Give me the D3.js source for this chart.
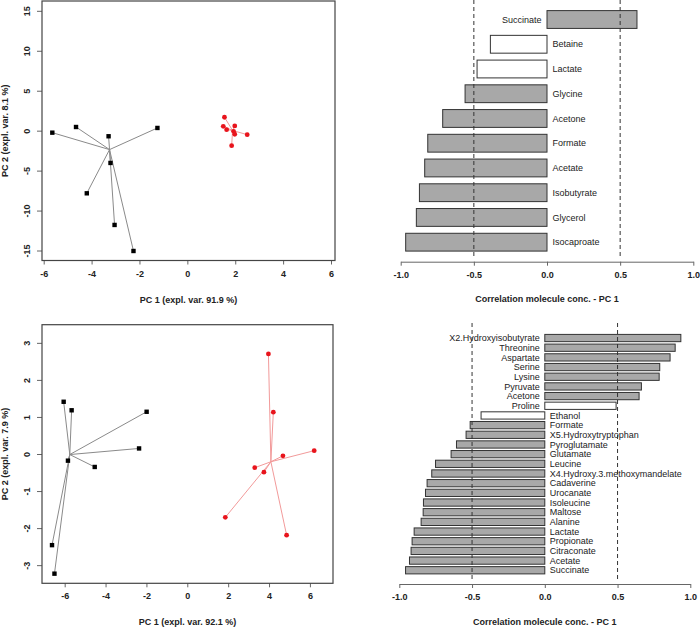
<!DOCTYPE html>
<html>
<head>
<meta charset="utf-8">
<script src="https://cdn.jsdelivr.net/npm/d3@7"></script>
<style>
	body { margin: 0; background: white; }
	svg { display: block; }
</style>
</head>
<body>
<div id="container"></div>
<script>
// PCA scores, dataset 1 (top) - [PC1, PC2]
const scoresTopBlack = [
	[-5.64, -0.25], [-4.65, 0.46], [-3.29, -0.70], [-1.25, 0.34],
	[-3.21, -4.04], [-4.20, -7.84], [-3.04, -11.8], [-2.25, -15.06]
];
const scoresTopRed = [
	[1.55, 1.68], [1.50, 0.55], [1.64, 0.13], [1.98, 0.59],
	[1.93, -0.08], [1.98, -0.45], [2.50, -0.50], [1.85, -1.88]
];
// PCA scores, dataset 2 (bottom)
const scoresBotBlack = [
	[-6.05, 1.41], [-5.66, 1.18], [-1.99, 1.14], [-2.36, 0.15],
	[-5.84, -0.18], [-4.53, -0.35], [-6.62, -2.46], [-6.50, -3.23]
];
const scoresBotRed = [
	[3.97, 2.70], [4.21, 1.13], [6.21, 0.09], [4.68, -0.05],
	[3.30, -0.37], [3.75, -0.49], [1.86, -1.71], [4.86, -2.19]
];

const topXTicks = [-6, -4, -2, 0, 2, 4, 6];
const topYTicks = [-15, -10, -5, 0, 5, 10, 15];
const botXTicks = [-6, -4, -2, 0, 2, 4, 6];
const botYTicks = [-3, -2, -1, 0, 1, 2, 3];

// correlations with PC 1
const topMolecules = ['Succinate', 'Betaine', 'Lactate', 'Glycine', 'Acetone',
	'Formate', 'Acetate', 'Isobutyrate', 'Glycerol', 'Isocaproate'];
const topCorr = [0.615, -0.387, -0.478, -0.56, -0.713, -0.815, -0.836, -0.872, -0.893, -0.966];

const botMolecules = ['X2.Hydroxyisobutyrate', 'Threonine', 'Aspartate', 'Serine', 'Lysine',
	'Pyruvate', 'Acetone', 'Proline', 'Ethanol', 'Formate', 'X5.Hydroxytryptophan',
	'Pyroglutamate', 'Glutamate', 'Leucine', 'X4.Hydroxy.3.methoxymandelate', 'Cadaverine',
	'Urocanate', 'Isoleucine', 'Maltose', 'Alanine', 'Lactate', 'Propionate', 'Citraconate',
	'Acetate', 'Succinate'];
const botCorr = [0.935, 0.896, 0.861, 0.79, 0.786, 0.664, 0.648, 0.49, -0.438, -0.513, -0.541,
	-0.607, -0.644, -0.751, -0.777, -0.809, -0.82, -0.834, -0.836, -0.85, -0.898, -0.912,
	-0.919, -0.93, -0.957];

const corrTicks = [-1, -0.5, 0, 0.5, 1];

const FONT = '"Liberation Sans", Arial, sans-serif';

const svg = d3.select('#container').append('svg')
	.attr('width', 700)
	.attr('height', 627)
	.style('font-family', FONT);

function styleTicks(g) {
	g.selectAll('.tick line').attr('stroke', '#666');
	g.selectAll('.tick text')
		.attr('fill', '#222')
		.style('font-family', FONT)
		.style('font-size', '9px')
		.style('font-weight', 'bold');
}

function scatterPanel(p) {
	const x = d3.scaleLinear().domain(p.xDomain).range([p.left, p.right]);
	const y = d3.scaleLinear().domain(p.yDomain).range([p.bottom, p.top]);
	const g = svg.append('g');

	// x axis
	const ax = g.append('g')
		.attr('transform', `translate(0,${p.bottom})`)
		.call(d3.axisBottom(x).tickValues(p.xTicks).tickSize(4).tickPadding(9)
			.tickFormat(d => String(d)));
	ax.select('.domain').remove();
	styleTicks(ax);
	ax.selectAll('.tick text').attr('dy', '0.35em');

	// y axis, labels turned like R's default
	const ay = g.append('g')
		.attr('transform', `translate(${p.left},0)`)
		.call(d3.axisLeft(y).tickValues(p.yTicks).tickSize(5)
			.tickFormat(d => String(d)));
	ay.select('.domain').remove();
	styleTicks(ay);
	ay.selectAll('.tick text')
		.attr('x', 0).attr('y', -12.5).attr('dy', null)
		.attr('text-anchor', 'middle')
		.attr('transform', 'rotate(-90)');

	g.append('rect')
		.attr('x', p.left).attr('y', p.top)
		.attr('width', p.right - p.left).attr('height', p.bottom - p.top)
		.attr('fill', 'none').attr('stroke', '#444').attr('stroke-width', 1.2);

	p.groups.forEach(grp => {
		const cx = d3.median(grp.data, d => d[0]);
		const cy = d3.median(grp.data, d => d[1]);
		g.append('g').selectAll('line').data(grp.data).join('line')
			.attr('x1', x(cx)).attr('y1', y(cy))
			.attr('x2', d => x(d[0])).attr('y2', d => y(d[1]))
			.attr('stroke', grp.line).attr('stroke-width', 1);
		if (grp.shape === 'square') {
			g.append('g').selectAll('rect').data(grp.data).join('rect')
				.attr('x', d => x(d[0]) - 2.2).attr('y', d => y(d[1]) - 2.2)
				.attr('width', 4.4).attr('height', 4.4)
				.attr('fill', grp.fill);
		} else {
			g.append('g').selectAll('circle').data(grp.data).join('circle')
				.attr('cx', d => x(d[0])).attr('cy', d => y(d[1]))
				.attr('r', 2.4)
				.attr('fill', grp.fill);
		}
	});

	g.append('text')
		.attr('x', (p.left + p.right) / 2).attr('y', p.xTitleY)
		.attr('text-anchor', 'middle')
		.style('font-size', '9px').style('font-weight', 'bold').attr('fill', '#222')
		.text(p.xTitle);
	g.append('text')
		.attr('transform', `translate(8,${(p.top + p.bottom) / 2}) rotate(-90)`)
		.attr('text-anchor', 'middle')
		.style('font-size', '9px').style('font-weight', 'bold').attr('fill', '#222')
		.text(p.yTitle);
}

function barPanel(p) {
	const x = d3.scaleLinear().domain([-1, 1]).range([p.left, p.right]);
	const y = d3.scaleBand().domain(p.names).range([p.top, p.bottom])
		.paddingInner(p.padIn).paddingOuter(p.padOut);
	const values = new Map(p.names.map((n, i) => [n, p.values[i]]));
	const g = svg.append('g');

	const bars = g.append('g').selectAll('g').data(p.names).join('g');
	bars.append('rect')
		.attr('x', d => x(Math.min(0, values.get(d))))
		.attr('y', d => y(d))
		.attr('width', d => Math.abs(x(values.get(d)) - x(0)))
		.attr('height', y.bandwidth())
		.attr('fill', d => Math.abs(values.get(d)) < 0.5 ? 'white' : '#a8a8a8')
		.attr('stroke', '#333').attr('stroke-width', 1);
	bars.append('text')
		.attr('x', d => values.get(d) < 0 ? x(0) + p.gap : x(0) - p.gap)
		.attr('y', d => y(d) + y.bandwidth() / 2)
		.attr('dy', '0.35em')
		.attr('text-anchor', d => values.get(d) < 0 ? 'start' : 'end')
		.style('font-size', '9px').attr('fill', '#222')
		.text(d => d);

	g.append('g').selectAll('line').data([-0.5, 0.5]).join('line')
		.attr('x1', d => x(d)).attr('x2', d => x(d))
		.attr('y1', p.dashTop).attr('y2', p.dashBottom)
		.attr('stroke', '#333').attr('stroke-width', 1)
		.attr('stroke-dasharray', '4,3');

	const ax = g.append('g')
		.attr('transform', `translate(0,${p.axisY})`)
		.call(d3.axisBottom(x).tickValues(corrTicks).tickSize(4).tickSizeOuter(0)
			.tickPadding(9).tickFormat(d => d.toFixed(1)));
	ax.select('.domain').attr('stroke', '#666');
	styleTicks(ax);
	ax.selectAll('.tick text').attr('dy', '0.35em');

	g.append('text')
		.attr('x', x(0)).attr('y', p.titleY)
		.attr('text-anchor', 'middle')
		.style('font-size', '9px').style('font-weight', 'bold').attr('fill', '#222')
		.text('Correlation molecule conc. - PC 1');
}

scatterPanel({
	left: 42, right: 335, top: 1, bottom: 260.5,
	xDomain: [-6.071, 6.167], yDomain: [-16.25, 16.23],
	xTicks: topXTicks, yTicks: topYTicks,
	xTitle: 'PC 1 (expl. var. 91.9 %)', yTitle: 'PC 2 (expl. var. 8.1 %)',
	xTitleY: 302.5,
	groups: [
		{data: scoresTopBlack, fill: '#000', line: '#8a8a8a', shape: 'square'},
		{data: scoresTopRed, fill: '#e8141c', line: '#f29a9a', shape: 'circle'}
	]
});

scatterPanel({
	left: 42, right: 333, top: 324.7, bottom: 583.3,
	xDomain: [-7.11, 7.13], yDomain: [-3.49, 3.49],
	xTicks: botXTicks, yTicks: botYTicks,
	xTitle: 'PC 1 (expl. var. 92.1 %)', yTitle: 'PC 2 (expl. var. 7.9 %)',
	xTitleY: 625,
	groups: [
		{data: scoresBotBlack, fill: '#000', line: '#8a8a8a', shape: 'square'},
		{data: scoresBotRed, fill: '#e8141c', line: '#f29a9a', shape: 'circle'}
	]
});

barPanel({
	names: topMolecules, values: topCorr,
	left: 400.7, right: 693.3, top: 1.7, bottom: 260,
	padIn: 0.28, padOut: 0.36, gap: 5.5,
	dashTop: 0, dashBottom: 258, axisY: 261.7, titleY: 302
});

barPanel({
	names: botMolecules, values: botCorr,
	left: 399.3, right: 690.3, top: 333.2, bottom: 575.1,
	padIn: 0.25, padOut: 0.125, gap: 5,
	dashTop: 323, dashBottom: 581, axisY: 584, titleY: 625
});
</script>
</body>
</html>
